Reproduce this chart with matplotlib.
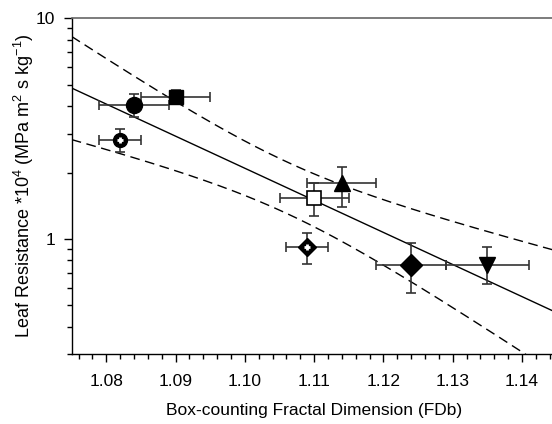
import numpy as np
import matplotlib
matplotlib.use("Agg")
import matplotlib.pyplot as plt

plt.rcParams['font.family'] = ['Liberation Sans', 'DejaVu Sans']
plt.rcParams['mathtext.default'] = 'regular'

# Data
fdb = [1.082, 1.084, 1.090, 1.109, 1.110, 1.114, 1.124, 1.135]
fdb_err = [0.003, 0.005, 0.005, 0.003, 0.005, 0.005, 0.005, 0.006]
resist = [2.81, 4.05, 4.41, 0.917, 1.53, 1.79, 0.763, 0.76]
resist_lo = [2.47, 3.58, 4.13, 0.770, 1.27, 1.39, 0.567, 0.625]
resist_hi = [3.16, 4.52, 4.73, 1.068, 1.79, 2.11, 0.962, 0.923]
markers = ['oplus', 'o', 's', 'Dplus', 'sopen', '^', 'D', 'v']

x_ticks = [1.08, 1.09, 1.10, 1.11, 1.12, 1.13, 1.14]
x_tick_labels = ['1.08', '1.09', '1.10', '1.11', '1.12', '1.13', '1.14']
y_ticks = [1, 10]
y_tick_labels = ['1', '10']

fig = plt.figure(figsize=(5.52, 4.24), dpi=100)
ax = fig.add_axes([0.1299, 0.1644, 0.8784, 0.7925])

x = np.array(fdb)
y = np.array(resist)
ly = np.log10(y)

# regression of log10(resistance) on FDb with confidence band
n = len(x)
b, a = np.polyfit(x, ly, 1)
res = ly - (a + b * x)
s = np.sqrt(np.sum(res ** 2) / (n - 2))
sxx = np.sum((x - x.mean()) ** 2)
t = 2.2
xx = np.linspace(1.075, 1.145, 300)
pred = a + b * xx
half = t * s * np.sqrt(1.0 / n + (xx - x.mean()) ** 2 / sxx)
ax.plot(xx, 10 ** pred, color='black', lw=1.0, zorder=2)
ax.plot(xx, 10 ** (pred + half), color='black', lw=1.0, ls=(0, (7, 4)), zorder=2)
ax.plot(xx, 10 ** (pred - half), color='black', lw=1.0, ls=(0, (7, 4)), zorder=2)

ecol = '#333333'
for xi, xe, yi, ylo, yhi, m in zip(fdb, fdb_err, resist, resist_lo, resist_hi, markers):
    ax.errorbar([xi], [yi], xerr=[[xe], [xe]], yerr=[[yi - ylo], [yhi - yi]],
                fmt='none', ecolor=ecol, elinewidth=1.2, capsize=3.5, capthick=1.2, zorder=3)
    if m == 'oplus':
        ax.plot([xi], [yi], marker='o', ms=10, color='black', zorder=4)
        ax.plot([xi], [yi], marker='+', ms=5, mew=2, color='white', zorder=5)
    elif m == 'Dplus':
        ax.plot([xi], [yi], marker='D', ms=9.5, color='black', zorder=4)
        ax.plot([xi], [yi], marker='+', ms=5, mew=2, color='white', zorder=5)
    elif m == 'sopen':
        ax.plot([xi], [yi], marker='s', ms=9.5, mfc='white', mec='black', mew=1.2, zorder=4)
    elif m == 'o':
        ax.plot([xi], [yi], marker='o', ms=11.5, color='black', zorder=4)
    elif m == 's':
        ax.plot([xi], [yi], marker='s', ms=9.5, color='black', zorder=4)
    elif m == 'D':
        ax.plot([xi], [yi], marker='D', ms=11, color='black', zorder=4)
    else:
        ax.plot([xi], [yi], marker=m, ms=12, color='black', zorder=4)

ax.set_yscale('log')
ax.set_xlim(1.075, 1.145)
ax.set_ylim(0.3, 10)
ax.set_xticks(x_ticks)
ax.set_xticklabels(x_tick_labels)
ax.set_xticks(np.arange(1.076, 1.1455, 0.002), minor=True)
ax.set_yticks(y_ticks)
ax.set_yticklabels(y_tick_labels)
ax.yaxis.set_minor_locator(matplotlib.ticker.LogLocator(base=10, subs=np.arange(2, 10)))
ax.yaxis.set_minor_formatter(matplotlib.ticker.NullFormatter())

ax.tick_params(axis='both', which='major', direction='out', length=6, width=1, labelsize=12.5, colors='black')
ax.tick_params(axis='both', which='minor', direction='out', length=3.5, width=1)
ax.tick_params(axis='x', pad=8)
ax.tick_params(axis='y', pad=6)

for sp in ['left', 'bottom']:
    ax.spines[sp].set_linewidth(1.0)
ax.spines['top'].set_linewidth(1.2)
ax.spines['top'].set_color('#666666')
ax.spines['right'].set_visible(False)

ax.set_xlabel('Box-counting Fractal Dimension (FDb)', fontsize=12.5, labelpad=10)
ax.set_ylabel(r'Leaf Resistance *10$^{4}$ (MPa m$^{2}$ s kg$^{-1}$)', fontsize=13, labelpad=0)

fig.savefig('out.png', dpi=100)
